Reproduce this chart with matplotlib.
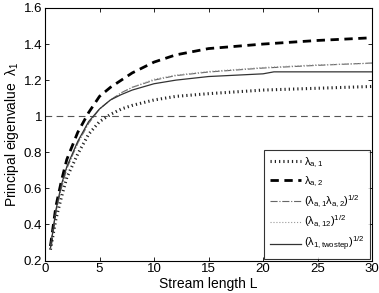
import matplotlib
matplotlib.use("Agg")
import matplotlib.pyplot as plt
import numpy as np

plt.rcParams['font.family'] = ['Liberation Sans', 'DejaVu Sans']
plt.rcParams['mathtext.fontset'] = 'custom'
plt.rcParams['mathtext.rm'] = 'Liberation Sans'
plt.rcParams['mathtext.it'] = 'Liberation Sans'

L = [0.5, 1, 1.5, 2, 3, 4, 5, 6, 7, 8, 10, 12, 15, 20, 25, 30]
lam_a1 = [0.26, 0.43, 0.55, 0.66, 0.79, 0.90, 0.97, 1.01, 1.04, 1.06, 1.09, 1.11, 1.125, 1.145, 1.155, 1.165]
lam_a2 = [0.28, 0.50, 0.64, 0.76, 0.91, 1.02, 1.11, 1.16, 1.20, 1.24, 1.30, 1.34, 1.375, 1.40, 1.42, 1.435]
geo = [0.27, 0.47, 0.60, 0.71, 0.85, 0.96, 1.04, 1.09, 1.13, 1.16, 1.20, 1.225, 1.245, 1.267, 1.282, 1.295]
lam_a12 = [0.27, 0.47, 0.60, 0.71, 0.85, 0.96, 1.04, 1.09, 1.13, 1.16, 1.205, 1.228, 1.248, 1.27, 1.285, 1.293]
L_two = [0.5, 1, 1.5, 2, 3, 4, 5, 6, 7, 8, 10, 12, 15, 20, 21, 25, 30]
twostep = [0.27, 0.48, 0.62, 0.72, 0.86, 0.97, 1.04, 1.09, 1.12, 1.145, 1.18, 1.20, 1.22, 1.235, 1.246, 1.246, 1.246]

fig = plt.figure(figsize=(3.79, 2.93), dpi=100)
ax = fig.add_axes([45/379, 1-260.5/293, 327/379, 252.5/293])

ax.axhline(1.0, color='#555555', lw=0.8, ls=(0, (6, 4)))
ax.plot(L, lam_a1, color='#222222', lw=2.2, ls=(0, (0.4, 1.0)), label=r'$\lambda_{a,1}$')
ax.plot(L, lam_a2, color='black', lw=2.0, ls=(0, (3, 2)), label=r'$\lambda_{a,2}$')
ax.plot(L, geo, color='#666666', lw=0.8, ls='-.', label=r'$(\lambda_{a,1}\lambda_{a,2})^{1/2}$')
ax.plot(L, lam_a12, color='#999999', lw=0.8, ls=':', label=r'$(\lambda_{a,12})^{1/2}$')
ax.plot(L_two, twostep, color='#333333', lw=0.9, ls='-', label=r'$(\lambda_{1,\mathrm{twostep}})^{1/2}$')

ax.set_xlim(0, 30)
ax.set_ylim(0.2, 1.6)
ax.set_xticks([0, 5, 10, 15, 20, 25, 30])
ax.set_yticks([0.2, 0.4, 0.6, 0.8, 1.0, 1.2, 1.4, 1.6])
ax.set_yticklabels(['0.2', '0.4', '0.6', '0.8', '1', '1.2', '1.4', '1.6'])
ax.tick_params(direction='in', top=True, right=True, labelsize=9.5, length=3, width=0.6, pad=2)
for s in ax.spines.values():
    s.set_linewidth(0.8)
ax.set_xlabel('Stream length L', fontsize=10, labelpad=1)
ax.set_ylabel(r'Principal eigenvalue  $\lambda_1$', fontsize=10, labelpad=2)

leg = ax.legend(loc='lower right', fontsize=8, frameon=True, fancybox=False,
                edgecolor='black', handlelength=2.8, borderaxespad=0.15,
                labelspacing=0.42, handletextpad=0.3, borderpad=0.5)
leg.get_frame().set_linewidth(0.8)

fig.savefig('out.png', dpi=100)
